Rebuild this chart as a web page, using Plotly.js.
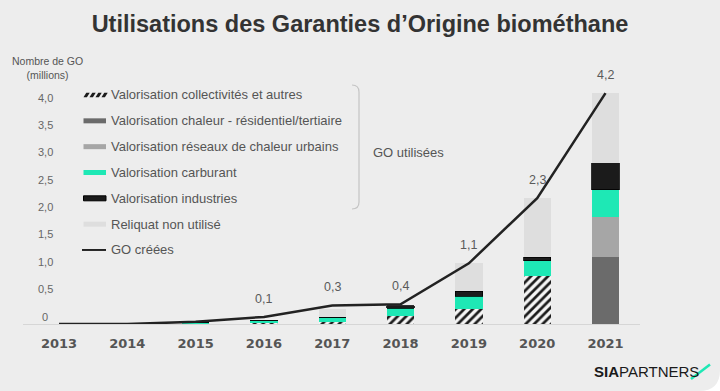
<!DOCTYPE html>
<html>
<head>
<meta charset="utf-8">
<script src="https://cdn.plot.ly/plotly-3.0.1.min.js"></script>
<style>html,body{margin:0;padding:0;background:#ededed;}#chart{width:720px;height:391px;}</style>
</head>
<body>
<div id="chart"></div>
<script>
// ---- Data (millions of GO) ----
const years = ['2013','2014','2015','2016','2017','2018','2019','2020','2021'];
const collectivites = [0, 0, 0, 0.01, 0.03, 0.14, 0.27, 0.88, 0];
const chaleurResidentiel = [0, 0, 0, 0, 0, 0, 0, 0, 1.23];
const reseauxChaleur = [0, 0, 0, 0, 0, 0, 0, 0, 0.73];
const carburant = [0, 0, 0.03, 0.05, 0.09, 0.15, 0.24, 0.28, 0.49];
const industries = [0, 0, 0, 0, 0, 0.04, 0.09, 0.06, 0.50];
const reliquat = [0, 0, 0, 0, 0.16, 0, 0.51, 1.09, 1.27];
const goCreees = [0, 0, 0.04, 0.13, 0.34, 0.36, 1.11, 2.30, 4.22];
const goLabels = ['', '', '', '0,1', '0,3', '0,4', '1,1', '2,3', '4,2'];
const yTickVals = [0, 0.5, 1, 1.5, 2, 2.5, 3, 3.5, 4];
const yTickText = ['0', '0,5', '1,0', '1,5', '2,0', '2,5', '3,0', '3,5', '4,0'];
const seriesNames = [
  'Valorisation collectivités et autres',
  'Valorisation chaleur - résidentiel/tertiaire',
  'Valorisation réseaux de chaleur urbains',
  'Valorisation carburant',
  'Valorisation industries',
  'Reliquat non utilisé',
  'GO créées'
];
const titleText = 'Utilisations des Garanties d\u2019Origine biométhane';
const yTitle = 'Nombre de GO<br>(millions)';
const bracketText = 'GO utilisées';

// ---- Style ----
const W = 720, H = 391;
const TEAL = '#1ee8b5';
const colors = ['#f3f3f3', '#6b6b6b', '#a6a6a6', TEAL, '#1b1b1b', '#dedede'];
const px = x => x / W;
const py = y => 1 - y / H;
const path = pts => pts.map((p, i) => (i ? 'L' : 'M') + px(p[0]) + ',' + py(p[1])).join(' ') + ' Z';

const barVals = [collectivites, chaleurResidentiel, reseauxChaleur, carburant, industries, reliquat];
const traces = barVals.map((vals, i) => {
  const t = {
    type: 'bar', x: years, y: vals, name: seriesNames[i], showlegend: false,
    marker: {color: colors[i], line: {width: 0}}
  };
  if (i === 0) {
    t.marker.pattern = {shape: '/', fgcolor: '#1b1b1b', bgcolor: '#f5f5f5', size: 6, solidity: 0.45, fillmode: 'replace'};
  }
  if (i === 4) t.marker.line = {width: 0.8, color: '#000'};
  return t;
});
traces.push({
  type: 'scatter', mode: 'lines', x: years, y: goCreees, name: seriesNames[6], showlegend: false,
  line: {color: '#222', width: 2.5}
});

const zeroY = 324, unit = 54.7, topPx = 80;
const yMax = (zeroY - topPx) / unit;

const annotations = [];
// value labels (x = category index)
years.forEach((yr, i) => {
  if (goLabels[i]) annotations.push({
    x: i, y: goCreees[i], xref: 'x', yref: 'y', text: goLabels[i], showarrow: false,
    xanchor: 'center', yanchor: 'middle', yshift: 18,
    font: {family: 'Liberation Sans, Arial', size: 12.5, color: '#5a5a5a'}
  });
});
// y tick labels
yTickVals.forEach((v, i) => annotations.push({
  x: px(45), y: v, xref: 'paper', yref: 'y', text: yTickText[i], showarrow: false,
  xanchor: 'center', yanchor: 'middle', yshift: 7.5,
  font: {family: 'Liberation Sans, Arial', size: 11, color: '#666'}
}));
// y title
annotations.push({
  x: px(47.5), y: py(68), xref: 'paper', yref: 'paper', text: yTitle, showarrow: false,
  xanchor: 'center', yanchor: 'middle', font: {family: 'Liberation Sans, Arial', size: 10.5, color: '#555'}
});
// legend
const legY = i => 95 + i * 25.83;
seriesNames.forEach((n, i) => annotations.push({
  x: px(109), y: py(legY(i)), xref: 'paper', yref: 'paper', text: n, showarrow: false,
  xanchor: 'left', yanchor: 'middle', font: {family: 'Liberation Sans, Arial', size: 13, color: '#555'}
}));
annotations.push({
  x: px(371), y: py(152), xref: 'paper', yref: 'paper', text: bracketText, showarrow: false,
  xanchor: 'left', yanchor: 'middle', font: {family: 'Liberation Sans, Arial', size: 13, color: '#555'}
});
// logo
annotations.push({
  x: px(701), y: py(371.5), xref: 'paper', yref: 'paper', text: '<b>SIA</b>PARTNERS', showarrow: false,
  xanchor: 'right', yanchor: 'middle', font: {family: 'Liberation Sans, Arial', size: 15, color: '#1a1a1a'}
});

const shapes = [];
// legend swatches
const sx0 = 83.5, sx1 = 106;
// hatched swatch
for (let k = 0; k < 4; k++) {
  const b = sx0 + k * 6;
  shapes.push({type: 'path', xref: 'paper', yref: 'paper', line: {width: 0}, fillcolor: '#1b1b1b',
    path: path([[b, 97.3], [b + 3.4, 97.3], [b + 6.2, 92.7], [b + 2.8, 92.7]])});
}
[1, 2, 3, 4, 5].forEach(i => {
  shapes.push({type: 'rect', xref: 'paper', yref: 'paper', x0: px(sx0), x1: px(sx1),
    y0: py(legY(i) + 2.5), y1: py(legY(i) - 2.5), fillcolor: colors[i],
    line: {width: i === 4 ? 1 : 0, color: '#000'}});
});
shapes.push({type: 'line', xref: 'paper', yref: 'paper', x0: px(82), x1: px(106),
  y0: py(legY(6)), y1: py(legY(6)), line: {color: '#111', width: 1.8}});
// bracket
shapes.push({type: 'path', xref: 'paper', yref: 'paper', line: {color: '#c4c4c4', width: 1.2},
  path: 'M' + px(352) + ',' + py(85) + ' Q' + px(359) + ',' + py(85) + ' ' + px(359) + ',' + py(92) +
        ' L' + px(359) + ',' + py(202) + ' Q' + px(359) + ',' + py(209) + ' ' + px(352) + ',' + py(209)});
// logo slash
shapes.push({type: 'line', xref: 'paper', yref: 'paper', x0: px(691), y0: py(379), x1: px(710), y1: py(364.5),
  line: {color: TEAL, width: 2.5}});
// rounded corner
shapes.push({type: 'path', xref: 'paper', yref: 'paper', line: {width: 0}, fillcolor: '#ffffff',
  path: 'M' + px(699) + ',' + py(391) + ' Q' + px(720) + ',' + py(391) + ' ' + px(720) + ',' + py(370) +
        ' L' + px(720) + ',' + py(391.5) + ' Z'});

const layout = {
  width: W, height: H,
  margin: {l: 0, r: 0, t: 0, b: 0, pad: 0},
  paper_bgcolor: '#ededed', plot_bgcolor: 'rgba(0,0,0,0)',
  barmode: 'stack', bargap: 0.6,
  showlegend: false,
  title: {text: titleText, x: 0.5, xanchor: 'center', y: py(24), yanchor: 'middle',
    font: {family: 'Liberation Sans, Arial', size: 23.5, color: '#333', weight: 700}},
  xaxis: {
    type: 'category', domain: [px(23), px(640)], range: [-0.527, 8.505],
    showline: true, linecolor: '#d6d6d6', linewidth: 1, showgrid: false, zeroline: false,
    ticks: '', ticklabelstandoff: 7,
    tickfont: {family: 'DejaVu Sans', size: 13, color: '#555', weight: 700}
  },
  yaxis: {
    domain: [py(zeroY), py(topPx)], range: [0, yMax],
    showline: false, showgrid: false, zeroline: false, showticklabels: false, ticks: ''
  },
  annotations: annotations,
  shapes: shapes,
  hovermode: false
};

Plotly.newPlot('chart', traces, layout, {staticPlot: true, displayModeBar: false});
</script>
</body>
</html>
